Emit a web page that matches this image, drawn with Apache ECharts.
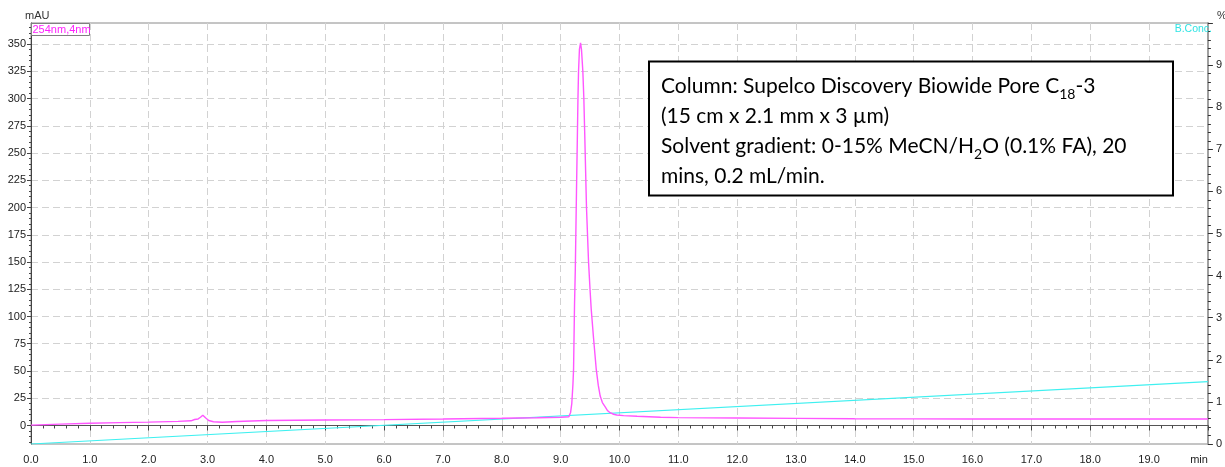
<!DOCTYPE html>
<html>
<head>
<meta charset="utf-8">
<script src="https://cdn.jsdelivr.net/npm/echarts@6/dist/echarts.min.js"></script>
<style>
  html, body { margin: 0; padding: 0; background: #fff; }
  #chart { width: 1225px; height: 467px; }
</style>
</head>
<body>
<div id="chart"></div>
<script>
// 254nm trace (mAU)
const uvTime = [0, 0.5, 1.0, 1.5, 2.0, 2.5, 2.72, 2.78, 2.84, 2.88, 2.92, 2.97, 3.02, 3.10, 3.25, 3.5, 4.0, 5.0, 6.0, 7.0, 8.0, 8.6, 9.0, 9.14,
  9.17, 9.19, 9.21, 9.22, 9.237, 9.25, 9.27, 9.285, 9.295, 9.305, 9.32, 9.339, 9.355, 9.378, 9.395, 9.41, 9.44, 9.475, 9.50, 9.52,
  9.56, 9.605, 9.64, 9.673, 9.71, 9.758, 9.80, 9.842, 9.9, 9.954, 10.07, 10.3, 10.7, 11.0, 11.5, 12.0, 13.0, 14.0, 15.0, 16.0,
  17.0, 18.0, 19.0, 20.0]
const uvAbs = [0.3, 1.2, 2.0, 2.6, 3.1, 3.8, 4.3, 5.5, 6.0, 7.5, 9.4, 6.8, 4.6, 3.4, 3.0, 3.6, 4.6, 5.0, 5.4, 5.9, 6.6, 7.1, 7.6, 8.0,
  12, 20, 38, 51, 112, 143, 215, 265, 300, 325, 345, 351, 345, 325, 300, 268, 200, 150, 125, 107,
  80, 52, 37, 27, 21, 17, 13.5, 11.7, 10.3, 9.6, 9.0, 8.4, 7.6, 7.2, 7.0, 6.8, 6.5, 6.2, 6.1, 6.0,
  6.0, 6.1, 6.0, 6.0]

// B.Conc (%)
const gradTime = [0, 20]
const gradPct = [0, 1.48]

// axis ticks / labels
const yMajor = [0, 25, 50, 75, 100, 125, 150, 175, 200, 225, 250, 275, 300, 325, 350]
const yMinor = []
for (let v = -15; v <= 365; v += 5) yMinor.push(v)
const xLabels = ['0.0', '1.0', '2.0', '3.0', '4.0', '5.0', '6.0', '7.0', '8.0', '9.0', '10.0',
  '11.0', '12.0', '13.0', '14.0', '15.0', '16.0', '17.0', '18.0', '19.0', 'min']
const pctLabels = ['0', '1', '2', '3', '4', '5', '6', '7', '8', '9', '']

const Y_MIN = -17
const Y_MAX = 369.3
const font = 'Liberation Sans, Arial, sans-serif'
const gridDash = { color: '#d2d2d2', type: [7, 4], width: 1 }

const chart = echarts.init(document.getElementById('chart'), null, { renderer: 'canvas' })

chart.setOption({
  animation: false,
  grid: { left: 31, right: 14, top: 23, bottom: 23, show: true, borderColor: '#8a8a8a', borderWidth: 1, backgroundColor: 'transparent' },
  xAxis: [
    {
      type: 'value', position: 'bottom', min: 0, max: 20, interval: 1,
      axisLine: { lineStyle: { color: '#555' } },
      axisTick: { length: 5, lineStyle: { color: '#444' } },
      minorTick: { show: true, splitNumber: 5, length: 3, lineStyle: { color: '#444' } },
      axisLabel: {
        color: '#222', fontSize: 11, fontFamily: font, margin: 10, alignMaxLabel: 'right',
        formatter: (v) => xLabels[Math.round(v)],
      },
      splitLine: { show: true, lineStyle: gridDash },
    },
  ],
  yAxis: [
    {
      type: 'value', position: 'left', min: Y_MIN, max: Y_MAX,
      axisLine: { show: true, lineStyle: { color: '#444' } },
      axisTick: { show: true, customValues: yMajor, length: 4, lineStyle: { color: '#444' } },
      axisLabel: { customValues: yMajor, color: '#222', fontSize: 11, fontFamily: font, margin: 5 },
      splitLine: { show: true, lineStyle: gridDash },
    },
    {
      type: 'value', position: 'left', min: Y_MIN, max: Y_MAX,
      axisLine: { show: false },
      axisTick: { show: true, customValues: yMinor, length: 2, lineStyle: { color: '#444' } },
      axisLabel: { show: false },
      splitLine: { show: false },
    },
    {
      type: 'value', position: 'right', min: 0, max: 10, interval: 1,
      axisLine: { show: true, lineStyle: { color: '#a0a0a0', width: 2 } },
      axisTick: { show: true, length: 5, lineStyle: { color: '#333' } },
      minorTick: { show: true, splitNumber: 5, length: 3, lineStyle: { color: '#333' } },
      axisLabel: {
        color: '#222', fontSize: 11, fontFamily: font, margin: 8,
        formatter: (v) => pctLabels[Math.round(v)],
      },
      splitLine: { show: false },
    },
  ],
  series: [
    {
      name: 'B.Conc.', type: 'line', xAxisIndex: 0, yAxisIndex: 2, showSymbol: false,
      lineStyle: { color: '#3ff0f0', width: 1.2 },
      data: gradTime.map((t, i) => [t, gradPct[i]]),
    },
    {
      name: '254nm,4nm', type: 'line', xAxisIndex: 0, yAxisIndex: 0, showSymbol: false,
      lineStyle: { color: '#ff55ff', width: 1.4 },
      data: uvTime.map((t, i) => [t, uvAbs[i]]),
    },
  ],
  graphic: [
    { type: 'text', z: 100, left: 25, top: 10, style: { text: 'mAU', fill: '#333', font: '11px ' + font } },
    { type: 'text', z: 100, left: 1217, top: 10, style: { text: '%', fill: '#333', font: '11px ' + font } },
    {
      type: 'group', z: 100, left: 31, top: 23,
      children: [
        { type: 'rect', z: 100, shape: { x: 0.5, y: 0.5, width: 58, height: 12 }, style: { fill: '#fff', stroke: '#808080', lineWidth: 1 } },
        { type: 'text', z: 101, x: 1.5, y: 1.5, style: { text: '254nm,4nm', fill: '#ff22ff', font: '11px ' + font } },
      ],
    },
    { type: 'text', z: 100, right: 13, top: 24, style: { text: 'B.Conc.', fill: '#30e4e4', font: '10.5px ' + font } },
    {
      type: 'rect', z: 100, shape: { x: 649, y: 61.5, width: 524, height: 134 },
      style: { fill: '#fff', stroke: '#000', lineWidth: 2 },
    },
    {
      type: 'text', z: 101, x: 661, y: 71,
      style: {
        text: '{n|Column: Supelco Discovery Biowide Pore C}{s|18}{n|-3}\n' +
          '{n|(15 cm x 2.1 mm x 3 µm)}\n' +
          '{n|Solvent gradient: 0-15% MeCN/H}{s|2}{n|O (0.1% FA), 20}\n' +
          '{n|mins, 0.2 mL/min.}',
        fill: '#000',
        rich: {
          n: { fontFamily: 'Lato', fontSize: 21, lineHeight: 30, fill: '#000' },
          s: { fontFamily: 'Lato', fontSize: 14, lineHeight: 18, verticalAlign: 'bottom', fill: '#000' },
        },
      },
    },
  ],
})
</script>
</body>
</html>
